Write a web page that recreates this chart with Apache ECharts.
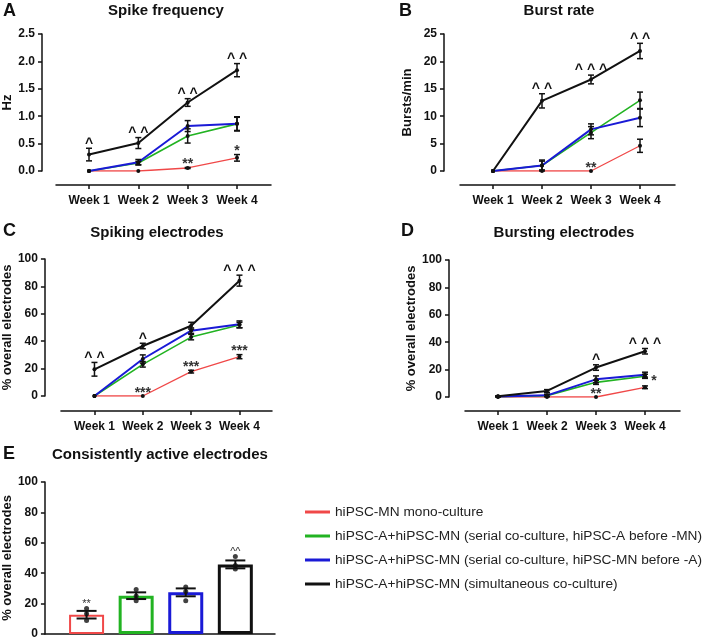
<!DOCTYPE html>
<html><head><meta charset="utf-8">
<script src="https://cdn.jsdelivr.net/npm/echarts@6/dist/echarts.min.js"></script>
<style>html,body{margin:0;padding:0;background:#fff}#c{width:709px;height:640px}</style>
</head><body><div id="c"></div>
<script>
// ---------- DATA ----------
const weeks = ['Week 1', 'Week 2', 'Week 3', 'Week 4'];
const groupNames = [
  'hiPSC-MN mono-culture',
  'hiPSC-A+hiPSC-MN (serial co-culture, hiPSC-A before -MN)',
  'hiPSC-A+hiPSC-MN (serial co-culture, hiPSC-MN before -A)',
  'hiPSC-A+hiPSC-MN (simultaneous co-culture)'
];
// order: red, green, blue, black
const spikeFreqMean = [[0, 0, 0.055, 0.24], [0, 0.145, 0.64, 0.86], [0, 0.16, 0.82, 0.86], [0.30, 0.51, 1.25, 1.84]];
const spikeFreqSem  = [[0, 0, 0.01, 0.06], [0, 0.03, 0.13, 0.12], [0, 0.05, 0.10, 0.13], [0.115, 0.10, 0.07, 0.12]];
const burstRateMean = [[0, 0, 0, 4.6], [0, 1.0, 7.0, 12.9], [0, 1.0, 7.6, 9.7], [0, 12.8, 16.7, 21.9]];
const burstRateSem  = [[0, 0, 0, 1.2], [0, 0.8, 1.1, 1.5], [0, 1.0, 1.0, 1.6], [0, 1.3, 0.8, 1.4]];
const spikingElMean = [[0, 0, 17.8, 28.7], [0, 23.1, 43, 51.8], [0, 27, 47.7, 52.3], [19.5, 36.5, 51.3, 84.2]];
const spikingElSem  = [[0, 0, 1, 1.5], [0, 2, 2, 2], [0, 3, 2, 2.5], [5, 2, 2.5, 4]];
const burstingElMean = [[0, 0, 0, 7.1], [0.3, 1.0, 10.7, 15.1], [0.3, 1.2, 12.9, 16.3], [0.5, 4.4, 21.5, 33.4]];
const burstingElSem  = [[0, 0, 0, 1], [0, 0.8, 1.5, 1.5], [0.3, 0.8, 2.5, 1.8], [0.3, 1, 2, 2]];
const consistMean = [12.7, 25.2, 27.4, 45.8];
const consistSem  = [2.5, 2.2, 2.6, 2.6];
const consistDots = [[16.7, 13.4, 8.8], [29.2, 25, 21.9], [30.9, 28, 21.9], [51, 45, 42.8]];
// annotations: [group index, week number, text, placement]
const annA = [[3, 1, '^'], [3, 2, '^ ^'], [3, 3, '^ ^'], [3, 4, '^ ^'], [0, 3, '**'], [0, 4, '*']];
const annB = [[3, 2, '^ ^'], [3, 3, '^ ^ ^'], [3, 4, '^ ^'], [0, 3, '**']];
const annC = [[3, 1, '^ ^'], [3, 2, '^'], [3, 4, '^ ^ ^'], [0, 2, '***'], [0, 3, '***'], [0, 4, '***']];
const annD = [[3, 3, '^'], [3, 4, '^ ^ ^'], [0, 3, '**'], [0, 4, '*', 'right']];
const annE = [[0, '**'], [3, '^^']];

// ---------- STYLE ----------
const FONT = 'Arial, "Liberation Sans", sans-serif';
const colors = ['#f04848', '#22b322', '#1a1ad6', '#111111'];
const lineWidths = [1.3, 1.6, 2, 2];
const ink = '#111';

const panels = [
  {mean: spikeFreqMean, sem: spikeFreqSem, ann: annA, grid: {left: 56, top: 34, width: 215, height: 137}, yOff: 14, xOff: 14, xmin: 0.331, xmax: 4.689, ymax: 2.5, yint: 0.5, dec: 1, name: 'Hz', gap: 25},
  {mean: burstRateMean, sem: burstRateSem, ann: annB, grid: {left: 460, top: 34, width: 215, height: 137}, yOff: 16, xOff: 14, xmin: 0.327, xmax: 4.714, ymax: 25, yint: 5, dec: 0, name: 'Bursts/min', gap: 30},
  {mean: spikingElMean, sem: spikingElSem, ann: annC, grid: {left: 58, top: 259, width: 214, height: 137}, yOff: 16, xOff: 15, xmin: 0.306, xmax: 4.673, ymax: 100, yint: 20, dec: 0, name: '% overall electrodes', gap: 24},
  {mean: burstingElMean, sem: burstingElSem, ann: annD, grid: {left: 465, top: 260, width: 215, height: 137}, yOff: 16, xOff: 14, xmin: 0.327, xmax: 4.714, ymax: 100, yint: 20, dec: 0, name: '% overall electrodes', gap: 27}
];

const axisLine = {show: true, onZero: false, lineStyle: {color: ink, width: 1.5}};
const axisTick = {show: true, length: 4, lineStyle: {color: ink, width: 1.5}};
const labelStyle = {fontSize: 12, fontWeight: 'bold', color: ink, fontFamily: FONT};

const grids = [], xAxes = [], yAxes = [], series = [];

panels.forEach((p, k) => {
  grids.push(p.grid);
  xAxes.push({
    type: 'value', gridIndex: k, min: p.xmin, max: p.xmax, offset: p.xOff,
    axisLine, splitLine: {show: false},
    axisTick: Object.assign({}, axisTick, {customValues: [1, 2, 3, 4]}),
    axisLabel: Object.assign({}, labelStyle, {customValues: [1, 2, 3, 4], margin: 10, formatter: v => weeks[Math.round(v) - 1]})
  });
  yAxes.push({
    type: 'value', gridIndex: k, min: 0, max: p.ymax, interval: p.yint, offset: p.yOff,
    axisLine, axisTick, splitLine: {show: false},
    axisLabel: Object.assign({}, labelStyle, {margin: 7, formatter: v => v.toFixed(p.dec)}),
    name: p.name, nameLocation: 'middle', nameGap: p.gap,
    nameTextStyle: {fontSize: 13, fontWeight: 'bold', color: ink, fontFamily: FONT}
  });
  // lines
  p.mean.forEach((vals, g) => {
    series.push({
      type: 'line', name: groupNames[g], xAxisIndex: k, yAxisIndex: k,
      data: vals.map((v, i) => [i + 1, v]), symbol: 'none', silent: true,
      lineStyle: {color: colors[g], width: lineWidths[g]}, itemStyle: {color: colors[g]}, z: 2
    });
  });
  // error bars + mean dots
  const ebData = [];
  p.mean.forEach((vals, g) => vals.forEach((v, i) => ebData.push([i + 1, v, p.sem[g][i]])));
  series.push({
    type: 'custom', xAxisIndex: k, yAxisIndex: k, data: ebData, z: 3, silent: true,
    renderItem: (params, api) => {
      const x = api.value(0), m = api.value(1), e = api.value(2);
      const c = api.coord([x, m]);
      const children = [];
      if (e > 0) {
        const t = api.coord([x, m + e]), b = api.coord([x, m - e]);
        const ls = {stroke: ink, lineWidth: 1.5};
        children.push({type: 'line', shape: {x1: c[0], y1: t[1], x2: c[0], y2: b[1]}, style: ls});
        children.push({type: 'line', shape: {x1: c[0] - 3, y1: t[1], x2: c[0] + 3, y2: t[1]}, style: ls});
        children.push({type: 'line', shape: {x1: c[0] - 3, y1: b[1], x2: c[0] + 3, y2: b[1]}, style: ls});
      }
      children.push({type: 'circle', shape: {cx: c[0], cy: c[1], r: 2}, style: {fill: ink}});
      return {type: 'group', children};
    }
  });
  // annotations
  series.push({
    type: 'custom', xAxisIndex: k, yAxisIndex: k, z: 4, silent: true,
    data: p.ann.map(a => [a[1], p.mean[a[0]][a[1] - 1] + p.sem[a[0]][a[1] - 1]]),
    renderItem: (params, api) => {
      const a = p.ann[params.dataIndex];
      const c = api.coord([api.value(0), api.value(1)]);
      const isCaret = a[2].indexOf('^') >= 0;
      const right = a[3] === 'right';
      return {
        type: 'text', x: c[0] + (right ? 9 : 0), y: c[1] - (right ? 5 : (isCaret ? 4.5 : 3)),
        style: {text: a[2], fill: isCaret ? ink : '#333', fontSize: 14, fontWeight: 'bold',
                fontFamily: FONT, align: 'center', verticalAlign: 'middle'}
      };
    }
  });
});

// Panel E
grids.push({left: 43, top: 482, width: 232, height: 152});
xAxes.push({type: 'value', gridIndex: 4, min: 0.16, max: 4.8, axisLine, axisTick: {show: false}, axisLabel: {show: false}, splitLine: {show: false}});
yAxes.push({
  type: 'value', gridIndex: 4, min: 0, max: 100, interval: 20, axisLine, axisTick, splitLine: {show: false},
  axisLabel: Object.assign({}, labelStyle, {margin: 7}),
  name: '% overall electrodes', nameLocation: 'middle', nameGap: 25,
  nameTextStyle: {fontSize: 13, fontWeight: 'bold', color: ink, fontFamily: FONT}
});
series.push({
  type: 'bar', xAxisIndex: 4, yAxisIndex: 4, barWidth: 35, silent: true, z: 2,
  data: consistMean.map((v, i) => ({value: [i + 1, v], itemStyle: {color: '#fff', borderColor: colors[i], borderWidth: i === 0 ? 2 : 3}}))
});
series.push({
  type: 'custom', xAxisIndex: 4, yAxisIndex: 4, z: 3, silent: true,
  data: consistMean.map((v, i) => [i + 1, v, consistSem[i]]),
  renderItem: (params, api) => {
    const x = api.value(0), m = api.value(1), e = api.value(2);
    const t = api.coord([x, m + e]), b = api.coord([x, m - e]);
    const ls = {stroke: ink, lineWidth: 2};
    return {type: 'group', children: [
      {type: 'line', shape: {x1: t[0], y1: t[1], x2: t[0], y2: b[1]}, style: ls},
      {type: 'line', shape: {x1: t[0] - 10, y1: t[1], x2: t[0] + 10, y2: t[1]}, style: ls},
      {type: 'line', shape: {x1: t[0] - 10, y1: b[1], x2: t[0] + 10, y2: b[1]}, style: ls}
    ]};
  }
});
const dotData = [];
consistDots.forEach((arr, i) => arr.forEach(v => dotData.push([i + 1, v])));
series.push({type: 'scatter', xAxisIndex: 4, yAxisIndex: 4, data: dotData, symbolSize: 5, itemStyle: {color: ink}, z: 4, silent: true});
series.push({
  type: 'custom', xAxisIndex: 4, yAxisIndex: 4, z: 5, silent: true,
  data: annE.map(a => [a[0] + 1, Math.max(consistMean[a[0]] + consistSem[a[0]], ...consistDots[a[0]])]),
  renderItem: (params, api) => {
    const a = annE[params.dataIndex];
    const c = api.coord([api.value(0), api.value(1)]);
    return {type: 'text', x: c[0], y: c[1] - 5,
      style: {text: a[1], fill: '#333', fontSize: 11, fontFamily: FONT, align: 'center', verticalAlign: 'middle'}};
  }
});

// titles
const titleItems = [
  ['A', 3, 2, 'left', 18], ['Spike frequency', 166, 3, 'center', 15],
  ['B', 399, 2, 'left', 18], ['Burst rate', 559, 3, 'center', 15],
  ['C', 3, 222, 'left', 18], ['Spiking electrodes', 157, 225, 'center', 15],
  ['D', 401, 222, 'left', 18], ['Bursting electrodes', 564, 225, 'center', 15],
  ['E', 3, 445, 'left', 18], ['Consistently active electrodes', 160, 447, 'center', 15]
];
const graphic = titleItems.map(t => ({
  type: 'text', x: t[1], y: t[2], silent: true,
  style: {text: t[0], fill: ink, fontSize: t[4], fontWeight: 'bold', fontFamily: FONT, align: t[3], verticalAlign: 'top'}
}));

const chart = echarts.init(document.getElementById('c'), null, {renderer: 'canvas'});
chart.setOption({
  animation: false,
  backgroundColor: '#fff',
  grid: grids, xAxis: xAxes, yAxis: yAxes, series, graphic,
  legend: {
    orient: 'vertical', left: 300, top: 500, itemWidth: 25, itemHeight: 3, itemGap: 10, icon: 'rect', selectedMode: false,
    textStyle: {fontSize: 13.7, color: '#222', fontFamily: FONT},
    data: groupNames.map((n, i) => ({name: n, itemStyle: {color: colors[i]}}))
  }
});
</script></body></html>
